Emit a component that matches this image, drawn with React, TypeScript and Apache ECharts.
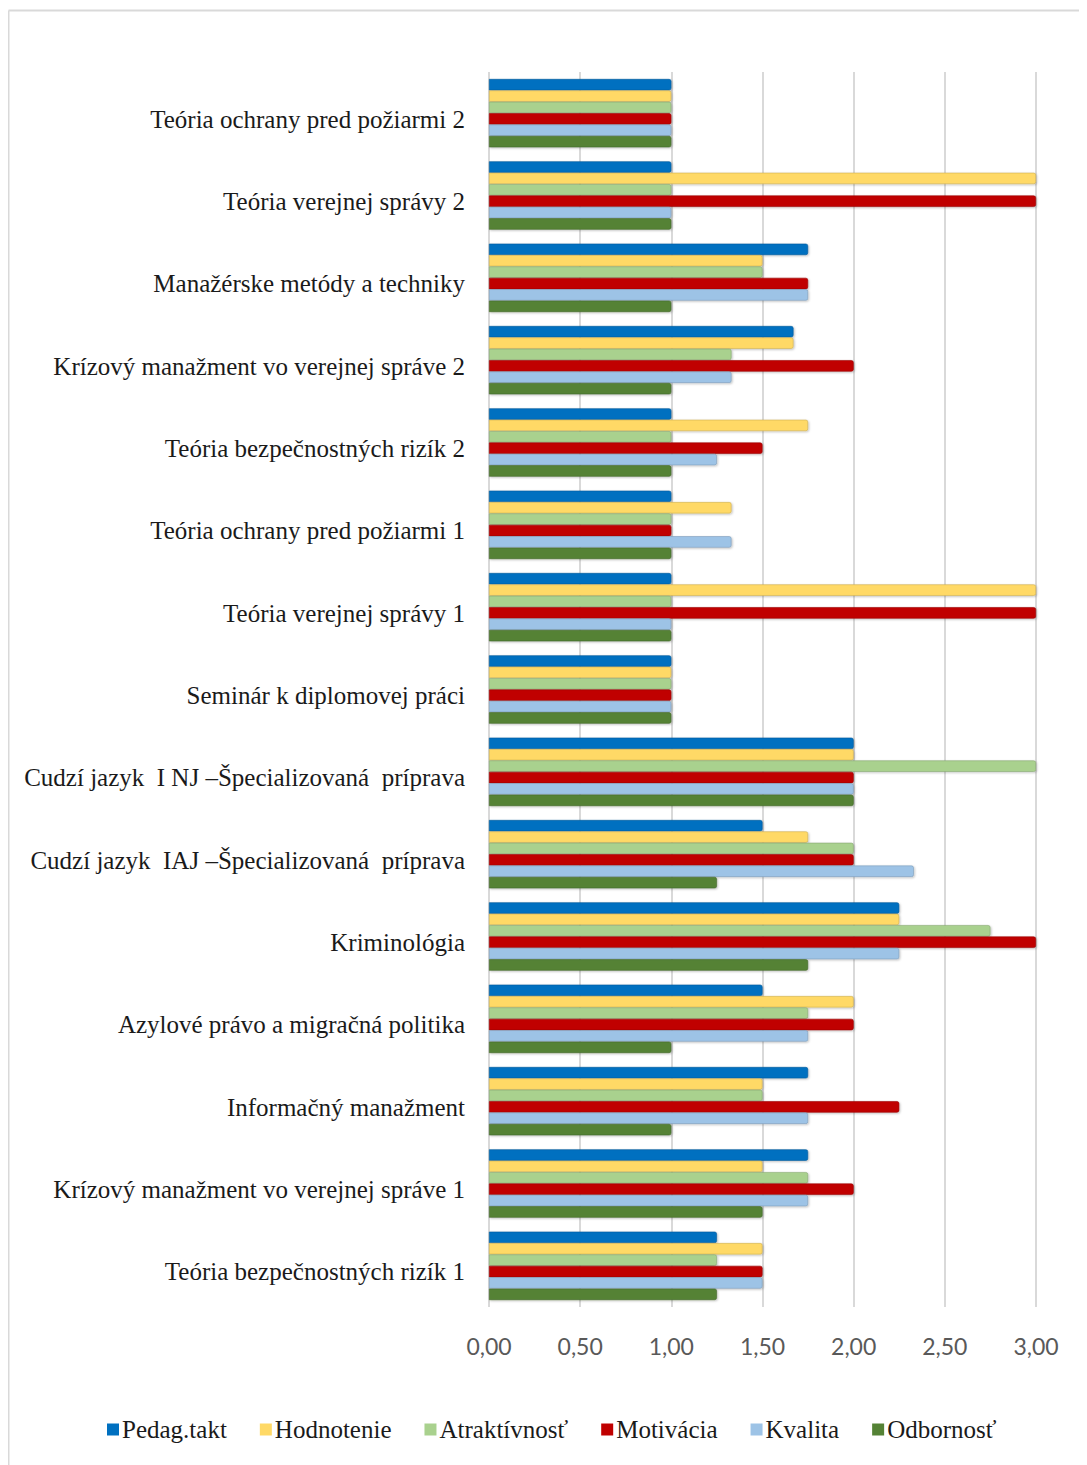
import React, { useEffect, useRef } from "react";
import * as echarts from "echarts";

const categories = [
  "Teória ochrany pred požiarmi 2",
  "Teória verejnej správy 2",
  "Manažérske metódy a techniky",
  "Krízový manažment vo verejnej správe 2",
  "Teória bezpečnostných rizík 2",
  "Teória ochrany pred požiarmi 1",
  "Teória verejnej správy 1",
  "Seminár k diplomovej práci",
  "Cudzí jazyk  I NJ –Špecializovaná  príprava",
  "Cudzí jazyk  IAJ –Špecializovaná  príprava",
  "Kriminológia",
  "Azylové právo a migračná politika",
  "Informačný manažment",
  "Krízový manažment vo verejnej správe 1",
  "Teória bezpečnostných rizík 1",
];

const seriesNames = ["Pedag.takt", "Hodnotenie", "Atraktívnosť", "Motivácia", "Kvalita", "Odbornosť"];
const seriesColors = ["#0070C0", "#FFD966", "#A9D18E", "#C00000", "#9DC3E6", "#548235"];

const pedagTakt = [1, 1, 1.75, 1.67, 1, 1, 1, 1, 2, 1.5, 2.25, 1.5, 1.75, 1.75, 1.25];
const hodnotenie = [1, 3, 1.5, 1.67, 1.75, 1.33, 3, 1, 2, 1.75, 2.25, 2, 1.5, 1.5, 1.5];
const atraktivnost = [1, 1, 1.5, 1.33, 1, 1, 1, 1, 3, 2, 2.75, 1.75, 1.5, 1.75, 1.25];
const motivacia = [1, 3, 1.75, 2, 1.5, 1, 3, 1, 2, 2, 3, 2, 2.25, 2, 1.5];
const kvalita = [1, 1, 1.75, 1.33, 1.25, 1.33, 1, 1, 2, 2.33, 2.25, 1.75, 1.75, 1.75, 1.5];
const odbornost = [1, 1, 1, 1, 1, 1, 1, 1, 2, 1.25, 1.75, 1, 1, 1.5, 1.25];

const seriesData = [pedagTakt, hodnotenie, atraktivnost, motivacia, kvalita, odbornost];

const SERIF = "'Liberation Serif', 'Times New Roman', serif";
const SANS = "Lato, 'Liberation Sans', sans-serif";

function darken(hex: string, f: number): string {
  const n = parseInt(hex.slice(1), 16);
  const r = Math.round(((n >> 16) & 255) * f);
  const g = Math.round(((n >> 8) & 255) * f);
  const b = Math.round((n & 255) * f);
  return `rgb(${r},${g},${b})`;
}

export default function App() {
  const ref = useRef<HTMLDivElement>(null);

  useEffect(() => {
    if (!ref.current) return;
    const chart = echarts.init(ref.current, undefined, { renderer: "svg" });
    chart.setOption({
      animation: false,
      backgroundColor: "#ffffff",
      graphic: [
        {
          type: "line",
          shape: { x1: 0.5, y1: 2.5, x2: 1079, y2: 2.5 },
          style: { stroke: "#d9d9d9", lineWidth: 2 },
        },
        {
          type: "line",
          shape: { x1: 0.5, y1: 2.5, x2: 0.5, y2: 1457 },
          style: { stroke: "#d9d9d9", lineWidth: 2 },
        },
      ],
      grid: { left: 481, right: 51, top: 64, bottom: 158, containLabel: false },
      legend: {
        bottom: 18,
        left: 94,
        itemWidth: 12,
        itemHeight: 12,
        itemGap: 33,
        icon: "rect",
        itemStyle: { borderWidth: 0, shadowBlur: 0, shadowOffsetX: 0, shadowOffsetY: 0 },
        textStyle: { fontFamily: SERIF, fontSize: 25, color: "#1a1a1a", padding: [0, 0, 0, -2] },
        data: seriesNames,
      },
      xAxis: {
        type: "value",
        min: 0,
        max: 3,
        interval: 0.5,
        axisLine: { show: false },
        axisTick: { show: false },
        splitLine: { show: true, lineStyle: { color: "#d9d9d9", width: 2 } },
        axisLabel: {
          margin: 27,
          fontFamily: SANS,
          fontSize: 23,
          color: "#595959",
          formatter: (v: number) => v.toFixed(2).replace(".", ","),
        },
      },
      yAxis: {
        type: "category",
        inverse: true,
        data: categories,
        axisLine: { show: false },
        axisTick: { show: false },
        axisLabel: {
          margin: 24,
          formatter: (v: string) => `{c|${v}}`,
          rich: {
            c: {
              fontFamily: SERIF,
              fontSize: 25,
              color: "#1a1a1a",
              padding: [12, 0, 0, 0],
            },
          },
        },
      },
      series: seriesNames.map((name, i) => ({
        name,
        type: "bar",
        data: seriesData[i],
        barGap: "0%",
        barCategoryGap: "17%",
        itemStyle: {
          color: seriesColors[i],
          borderColor: darken(seriesColors[i], 0.8),
          borderWidth: 0.6,
          borderRadius: [0, 2, 2, 0],
          shadowColor: "rgba(0,0,0,0.25)",
          shadowBlur: 2,
          shadowOffsetX: 1,
          shadowOffsetY: 1,
        },
      })),
    });
    return () => chart.dispose();
  }, []);

  return <div ref={ref} style={{ width: 1079, height: 1457 }} />;
}
